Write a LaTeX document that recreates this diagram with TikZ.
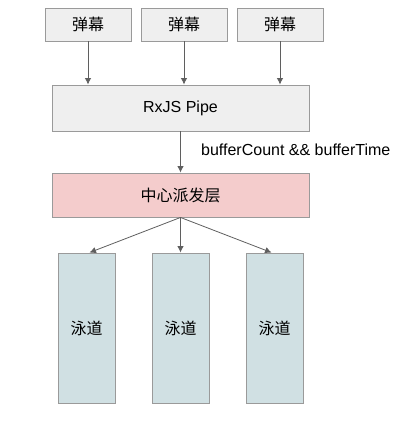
\documentclass[tikz,border=0pt]{standalone}
\usepackage{fontspec}
\setmainfont{Liberation Sans}
\newfontfamily\cjk{Noto Sans CJK SC}
\usetikzlibrary{arrows.meta}
\definecolor{boxgray}{HTML}{EFEFEF}
\definecolor{hubpink}{HTML}{F4CCCC}
\definecolor{lanecyan}{HTML}{D0E0E3}
\definecolor{edgegray}{HTML}{9A9A9A}
\definecolor{arrowgray}{HTML}{5F5F5F}

\begin{document}
\begin{tikzpicture}[x=1pt, y=-1pt,
		box/.style={draw=edgegray, line width=0.9pt, inner sep=0pt, font=\fontsize{16}{19}\selectfont},
		srcbox/.style={box, fill=boxgray, minimum width=86pt, minimum height=33pt, font=\cjk\fontsize{16}{19}\selectfont},
		lanebox/.style={box, fill=lanecyan, minimum width=57pt, minimum height=150pt, font=\cjk\fontsize{16}{19}\selectfont},
		flow/.style={draw=arrowgray, line width=0.8pt, -{Latex[length=6.5pt, width=6.5pt]}}]
			%%%%% START %%%%%
			
			\useasboundingbox (0, 0) rectangle (408, 423);
			
			\node[srcbox] (src1) at (88, 24.5) {弹幕};
			\node[srcbox] (src2) at (184, 24.5) {弹幕};
			\node[srcbox] (src3) at (280, 24.5) {弹幕};
			
			\node[box, fill=boxgray, minimum width=257pt, minimum height=46pt] (pipe) at (180.5, 108) {RxJS Pipe};
			\node[box, fill=hubpink, minimum width=257pt, minimum height=44pt, font=\cjk\fontsize{16}{19}\selectfont] (hub) at (180.5, 195) {中心派发层};
			\node[anchor=west, inner sep=0pt, font=\fontsize{16}{19}\selectfont] (cond) at (201, 150) {bufferCount \&\& bufferTime};
			
			\node[lanebox] (lane1) at (86.5, 328) {泳道};
			\node[lanebox] (lane2) at (180.5, 328) {泳道};
			\node[lanebox] (lane3) at (274.5, 328) {泳道};
			
			\draw[flow] (src1.south) -- (src1.south |- pipe.north);
			\draw[flow] (src2.south) -- (src2.south |- pipe.north);
			\draw[flow] (src3.south) -- (src3.south |- pipe.north);
			
			\draw[flow] (pipe.south) -- (hub.north);
			
			\draw[flow] (hub.south) -- ([xshift=3pt]lane1.north);
			\draw[flow] (hub.south) -- (lane2.north);
			\draw[flow] (hub.south) -- ([xshift=-3pt]lane3.north);
			
			%%%%% END %%%%%
		\end{tikzpicture}
\end{document}
